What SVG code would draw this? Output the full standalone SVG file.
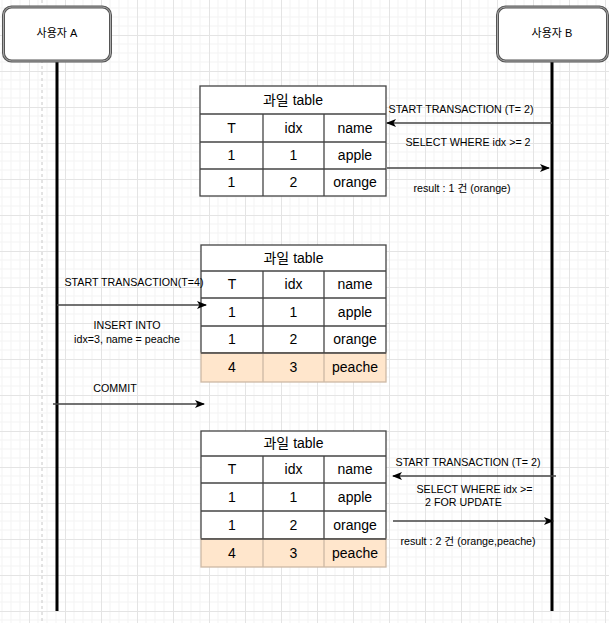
<svg xmlns="http://www.w3.org/2000/svg" width="609" height="623" viewBox="0 0 609 623">
<defs>
<pattern id="grid" x="29" y="35" width="36" height="36" patternUnits="userSpaceOnUse">
<path d="M9,0V36M18,0V36M27,0V36M0,9H36M0,18H36M0,27H36" stroke="#f3f3f3" stroke-width="1" fill="none"/>
<path d="M0.5,0V36M0,0.5H36" stroke="#e4e4e4" stroke-width="1" fill="none"/>
</pattern>
<marker id="arr" viewBox="0 0 10 8" refX="9" refY="4" markerWidth="10" markerHeight="8" markerUnits="userSpaceOnUse" orient="auto">
<path d="M0,0 L10,4 L0,8 L2.5,4 z" fill="#000"/>
</marker>
<style>
text{font-family:"Liberation Sans",Arial,"Noto Sans CJK KR",sans-serif;fill:#000}
.cell{font-size:14px;text-anchor:middle}
.lbl{font-size:10.7px}
.mid{text-anchor:middle}
.tb{fill:#fff;stroke:#444;stroke-width:1.3}
.pe{fill:#ffe6cc;stroke:#cdb9a5;stroke-width:1.3}
.gl{stroke:#444;stroke-width:1.3}
.life{stroke:#000;stroke-width:3}
.msg{stroke:#444;stroke-width:1.3;fill:none;marker-end:url(#arr)}
</style>
</defs>
<rect width="609" height="623" fill="#fff"/>
<rect width="609" height="623" fill="url(#grid)"/>
<line x1="42" y1="0" x2="42" y2="623" stroke="#c8c8c8" stroke-width="1" stroke-dasharray="3,3"/>

<g id="actorA">
<line class="life" x1="57" y1="61" x2="57" y2="611"/>
<rect x="3.5" y="7" width="107" height="54" rx="8" fill="#fff" stroke="#555" stroke-width="3"/>
<rect x="3.5" y="7" width="107" height="54" rx="8" fill="none" stroke="#aaa" stroke-width="1"/>
<text class="mid" x="57" y="37" font-size="11">사용자 A</text>
</g>

<g id="actorB">
<line class="life" x1="552" y1="61" x2="552" y2="611"/>
<rect x="497.5" y="7" width="110" height="54" rx="8" fill="#fff" stroke="#555" stroke-width="3"/>
<rect x="497.5" y="7" width="110" height="54" rx="8" fill="none" stroke="#aaa" stroke-width="1"/>
<text class="mid" x="552" y="37" font-size="11">사용자 B</text>
</g>

<g id="table1">
<rect class="tb" x="200" y="86" width="186" height="110"/>
<line class="gl" x1="200" y1="114" x2="386" y2="114"/>
<line class="gl" x1="200" y1="142" x2="386" y2="142"/>
<line class="gl" x1="200" y1="169" x2="386" y2="169"/>
<line class="gl" x1="263" y1="114" x2="263" y2="196"/>
<line class="gl" x1="324" y1="114" x2="324" y2="196"/>
<text class="cell" x="293" y="105">과일 table</text>
<text class="cell" x="231.5" y="133">T</text><text class="cell" x="293.5" y="133">idx</text><text class="cell" x="355" y="133">name</text>
<text class="cell" x="231.5" y="160">1</text><text class="cell" x="293.5" y="160">1</text><text class="cell" x="355" y="160">apple</text>
<text class="cell" x="231.5" y="187">1</text><text class="cell" x="293.5" y="187">2</text><text class="cell" x="355" y="187">orange</text>
</g>

<g id="table2">
<rect class="tb" x="201" y="245" width="185" height="108"/>
<rect class="pe" x="201" y="353" width="185" height="29"/>
<line class="pe" x1="263" y1="353" x2="263" y2="382"/>
<line class="pe" x1="324" y1="353" x2="324" y2="382"/>
<line class="gl" x1="201" y1="271" x2="386" y2="271"/>
<line class="gl" x1="201" y1="298" x2="386" y2="298"/>
<line class="gl" x1="201" y1="326" x2="386" y2="326"/>
<line class="gl" x1="201" y1="353" x2="386" y2="353"/>
<line class="gl" x1="263" y1="271" x2="263" y2="353"/>
<line class="gl" x1="324" y1="271" x2="324" y2="353"/>
<text class="cell" x="293.5" y="263">과일 table</text>
<text class="cell" x="232" y="289">T</text><text class="cell" x="293.5" y="289">idx</text><text class="cell" x="355" y="289">name</text>
<text class="cell" x="232" y="317">1</text><text class="cell" x="293.5" y="317">1</text><text class="cell" x="355" y="317">apple</text>
<text class="cell" x="232" y="344">1</text><text class="cell" x="293.5" y="344">2</text><text class="cell" x="355" y="344">orange</text>
<text class="cell" x="232" y="372">4</text><text class="cell" x="293.5" y="372">3</text><text class="cell" x="355" y="372">peache</text>
</g>

<g id="table3">
<rect class="tb" x="201" y="431" width="185" height="108"/>
<rect class="pe" x="201" y="539" width="185" height="28"/>
<line class="pe" x1="263" y1="539" x2="263" y2="567"/>
<line class="pe" x1="324" y1="539" x2="324" y2="567"/>
<line class="gl" x1="201" y1="456" x2="386" y2="456"/>
<line class="gl" x1="201" y1="483" x2="386" y2="483"/>
<line class="gl" x1="201" y1="511" x2="386" y2="511"/>
<line class="gl" x1="201" y1="539" x2="386" y2="539"/>
<line class="gl" x1="263" y1="456" x2="263" y2="539"/>
<line class="gl" x1="324" y1="456" x2="324" y2="539"/>
<text class="cell" x="293.5" y="448">과일 table</text>
<text class="cell" x="232" y="474">T</text><text class="cell" x="293.5" y="474">idx</text><text class="cell" x="355" y="474">name</text>
<text class="cell" x="232" y="502">1</text><text class="cell" x="293.5" y="502">1</text><text class="cell" x="355" y="502">apple</text>
<text class="cell" x="232" y="530">1</text><text class="cell" x="293.5" y="530">2</text><text class="cell" x="355" y="530">orange</text>
<text class="cell" x="232" y="558">4</text><text class="cell" x="293.5" y="558">3</text><text class="cell" x="355" y="558">peache</text>
</g>

<g id="connectors">
<line class="msg" x1="552" y1="123" x2="387" y2="123"/>
<line class="msg" x1="387" y1="168" x2="549" y2="168"/>
<line class="msg" x1="57" y1="305" x2="206" y2="305"/>
<line class="msg" x1="53" y1="404" x2="204" y2="404"/>
<line class="msg" x1="556" y1="476" x2="393" y2="476"/>
<line class="msg" x1="393" y1="521" x2="553" y2="521"/>
</g>

<g id="labels">
<text class="lbl mid" x="461" y="113">START TRANSACTION (T= 2)</text>
<text class="lbl mid" x="468" y="146">SELECT WHERE idx &gt;= 2</text>
<text class="lbl mid" x="462" y="192">result : 1 건 (orange)</text>
<text class="lbl mid" x="134" y="286">START TRANSACTION(T=4)</text>
<text class="lbl mid" x="127" y="329">INSERT INTO</text>
<text class="lbl mid" x="127" y="343">idx=3, name = peache</text>
<text class="lbl mid" x="115" y="392">COMMIT</text>
<text class="lbl mid" x="468" y="466">START TRANSACTION (T= 2)</text>
<text class="lbl mid" x="474.5" y="493">SELECT WHERE idx &gt;=</text>
<text class="lbl mid" x="463.5" y="506">2 FOR UPDATE</text>
<text class="lbl mid" x="468" y="545">result : 2 건 (orange,peache)</text>
</g>
</svg>
